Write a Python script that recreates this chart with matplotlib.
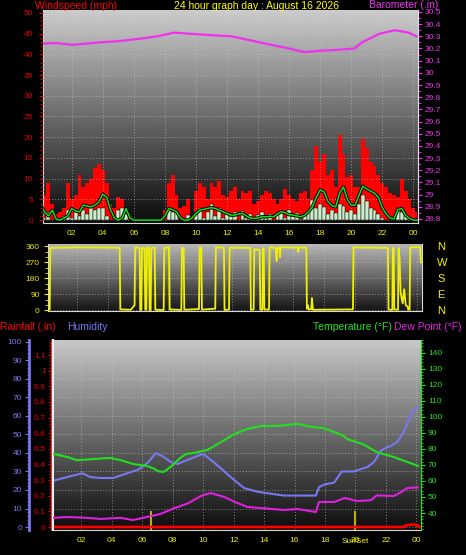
import numpy as np
import matplotlib.pyplot as plt
import matplotlib.patheffects as pe
from matplotlib.ticker import MultipleLocator
from matplotlib.transforms import blended_transform_factory

plt.rcParams['font.family'] = ['Liberation Sans', 'DejaVu Sans']

# ---------------- data ----------------
# wind readings every 15 minutes from midnight (mph)
wind_gust = [5, 6, 9, 4, 1.5, 2, 3, 9, 5, 6, 11, 8, 9, 10, 12.5, 13.5, 12, 9, 4, 3,
             5.5, 5, 3, 1, 0, 0, 0, 0, 0, 0, 0, 0, 2.5, 9, 11, 6, 3, 3.5, 5, 1,
             7, 9, 8, 5, 9, 8, 9.5, 6, 5.5, 7, 8, 5, 7, 6.5, 7, 4, 4.5, 6, 7, 6.5,
             5, 4, 5, 7.5, 6, 5, 4.5, 6.5, 7, 5, 12, 18, 14, 16, 11, 12, 8, 20.5, 16, 10.5,
             11, 8, 8, 19.5, 17.5, 14, 13, 11, 9, 8, 6.5, 6, 5.5, 10, 7, 5, 3, 2]
wind_avg = [3.6, 2, 1, 2.4, 0.2, 0, 0.5, 1, 2.8, 2.2, 2, 3.6, 3.4, 3.2, 3.6, 4.4, 6.3, 5.5, 2.5, 0.5,
            0, 0.5, 2.8, 0.5, 0, 0, 0, 0, 0, 0, 0, 0, 1, 2.8, 2.5, 2, 0.5, 0, 0, 0.5,
            1.6, 2.4, 2.6, 2.8, 3, 2.8, 2.4, 2, 1.6, 1.2, 1.2, 1.5, 1.6, 1.0, 0.5, 0.4, 0.5, 0.8, 0.8, 0.9,
            0.8, 1.5, 2, 1.8, 1.3, 1.2, 1.0, 0.8, 1.2, 2, 3.2, 5.5, 7.3, 6.8, 4.5, 3.5, 3.2, 6.5, 8, 5,
            3.6, 3.6, 6, 8.2, 7.5, 7, 6.5, 5.5, 3, 1.5, 0.5, 0.3, 2.5, 2.8, 1.2, 0.4, 0, 0]
wind_speed = [2.4, 0.5, 2, 0, 0, 0, 1, 2.4, 0.5, 2.4, 1, 2.4, 1.5, 2.8, 2.4, 3, 2.8, 1, 0, 0,
              2.4, 2.8, 1.5, 0, 0, 0, 0, 0, 0, 0, 0, 0, 0, 2.4, 2, 2.4, 0, 0, 1.2, 0,
              1.5, 2.8, 0.5, 2, 4, 1, 3, 0.5, 2, 1, 2, 0, 2.2, 0.5, 1.5, 0, 1.2, 2, 0.5, 1.5,
              0, 1.8, 2, 0.5, 2.4, 1, 1.6, 0.3, 1.5, 2, 4.8, 3, 4, 3.2, 1.5, 2.4, 1.6, 4, 3.5, 2,
              2.5, 1.5, 4, 6, 4.5, 3, 2.4, 1.5, 0.5, 0, 0, 0, 3, 2, 1, 0, 0, 0]

baro_hours = [0.13, 1.0, 2.06, 2.9, 3.8, 5.0, 6.4, 7.5, 8.6, 9.7, 10.9, 12.3,
              14.1, 16.0, 17.0, 17.9, 19.2, 20.2, 20.7, 21.8, 22.8, 23.7, 24.2]
baro_inhg = [30.24, 30.245, 30.23, 30.24, 30.25, 30.26, 30.28, 30.30, 30.33, 30.32, 30.31, 30.30,
             30.25, 30.20, 30.17, 30.18, 30.19, 30.20, 30.25, 30.32, 30.35, 30.33, 30.30]

dir_hours = [0.15, 0.26, 0.30, 2.0, 4.0, 4.78, 4.82, 5.5, 5.74, 5.78, 6.07, 6.11, 6.18, 6.22,
             6.39, 6.43, 6.50, 6.54, 6.67, 6.71, 6.78, 6.82, 7.04, 7.08, 7.62, 7.66, 7.96, 8.00,
             8.76, 8.80, 8.91, 8.95, 9.90, 9.94, 10.05, 10.09, 10.95, 10.99, 11.51, 11.55,
             11.84, 11.88, 13.21, 13.25, 13.43, 13.47, 13.82, 13.86, 13.99, 14.03, 14.08, 14.12,
             14.42, 14.46, 14.85, 14.91, 14.96, 15.10, 15.13, 15.17, 16.29, 16.31, 16.34,
             16.83, 16.87, 16.94, 16.97, 17.15, 17.19, 17.26, 19.84, 19.88, 22.10, 22.14,
             22.38, 22.42, 22.47, 22.51, 22.75, 22.79, 22.85, 22.92, 23.05, 23.15, 23.25,
             23.38, 23.42, 23.50, 23.54, 24.17, 24.23]
dir_deg = [5, 5, 352, 355, 354, 352, 6, 4, 30, 355, 350, 3, 5, 352,
           350, 4, 5, 354, 352, 2, 3, 350, 354, 4, 3, 352, 355, 6,
           3, 353, 350, 4, 8, 354, 352, 5, 10, 356, 352, 3,
           5, 353, 352, 4, 6, 345, 340, 5, 4, 350, 348, 6,
           5, 355, 352, 280, 350, 352, 300, 355, 354, 330, 355,
           352, 10, 30, 5, 8, 70, 4, 6, 355, 352, 5,
           3, 350, 352, 6, 4, 350, 300, 100, 40, 120, 30,
           20, 4, 5, 355, 356, 270]

hum_hours = [0.16, 1.08, 2.07, 2.6, 3.25, 4.1, 5.0, 5.75, 6.4, 6.9, 7.4, 7.9, 8.3, 9.2, 10.0,
             10.7, 11.4, 11.95, 12.7, 13.6, 14.45, 15.3, 16.2, 17.4, 17.6, 17.95, 18.6, 19.1,
             19.9, 20.8, 21.2, 21.7, 22.35, 22.75, 23.2, 23.7, 24.1]
hum_pct = [25, 27, 29, 27, 26.5, 26.5, 29, 31, 35, 40, 38, 35, 34, 37, 39.5,
           35, 30, 26, 21, 19, 18, 17, 17, 17, 21.5, 23, 24, 30,
           30, 32.5, 35, 41.5, 44, 46, 52, 61.6, 65]

temp_hours = [0.16, 1.08, 1.7, 2.8, 3.9, 4.6, 5.4, 6.3, 6.7, 7.1, 7.4, 7.9, 8.5, 8.9, 9.4,
              10.3, 11.2, 12.0, 12.9, 13.8, 14.9, 16.2, 17.1, 17.9, 19.1, 19.5, 20.5, 21.4,
              22.5, 23.4, 24.1]
temp_f = [77, 75, 73, 73.7, 74.4, 73, 70.6, 69.4, 68, 66, 65.6, 69, 74.4, 76.9, 77.5,
          79.4, 84.4, 89, 92.5, 94.4, 94.4, 95.6, 93.8, 93, 88.8, 86, 83, 78,
          75, 71.9, 69.4]

dew_hours = [0.16, 1.08, 2.4, 3.25, 4.6, 5.4, 6.3, 7.2, 8.1, 9.0, 9.85, 10.5, 11.4, 11.95,
             12.9, 13.9, 15.3, 16.2, 17.4, 17.6, 18.6, 19.3, 20.1, 21.0, 21.4, 22.5, 23.0,
             23.4, 24.1]
dew_f = [37, 37.5, 37, 36.3, 37, 35.6, 37.5, 39.4, 43, 46, 50.6, 52.5, 50, 47.5,
         43.8, 43, 41.9, 42.5, 40.6, 46.9, 46.9, 49.4, 47.5, 48, 51, 50.6, 53,
         55.6, 56]

rain_hours = [0.16, 23.2, 23.3, 23.6, 23.9, 24.1, 24.2]
rain_in = [0.0, 0.0, 0.01, 0.015, 0.015, 0.01, 0.0]

sunrise_hour = 6.55
sunset_hour = 20.0
hour_ticks = [2, 4, 6, 8, 10, 12, 14, 16, 18, 20, 22, 24]
hour_labels = ['02', '04', '06', '08', '10', '12', '14', '16', '18', '20', '22', '00']

wind_hours = np.arange(len(wind_gust)) * 0.25

# ---------------- figure ----------------
W, H = 466, 555
fig = plt.figure(figsize=(W / 100, H / 100), dpi=100, facecolor='black')


def box(l, t, r, b):
    return fig.add_axes([l / W, 1 - b / H, (r - l) / W, (b - t) / H])


def shade(ax, top, bottom):
    grad = np.linspace(top, bottom, 256).reshape(-1, 1)
    ax.imshow(grad, extent=[0, 1, 0, 1], transform=ax.transAxes, cmap='gray',
              vmin=0, vmax=1, aspect='auto', zorder=0, interpolation='bilinear')


XLIM = (0.15, 24.3)
GRID = dict(color='#c8c8c8', linestyle=(0, (1, 2)), linewidth=0.7, alpha=0.6)
TICKFS = 6

# ---- top panel: wind + barometer ----
ax1 = box(43, 10, 418, 223)
shade(ax1, 0.80, 0.04)
ax1.fill_between(wind_hours, wind_gust, step='mid', color='#ff0000', lw=0, zorder=2)
ax1.bar(wind_hours, wind_speed, width=0.25, color='#cdeecd', edgecolor='black', lw=0.35, zorder=3)
ax1.plot(wind_hours, wind_avg, color='#10e010', lw=1.1, zorder=4,
         path_effects=[pe.Stroke(linewidth=2.4, foreground='black'), pe.Normal()])
ax1.set_xlim(*XLIM)
ax1.set_ylim(-0.7, 50.7)
ax1.set_xticks(hour_ticks)
ax1.set_xticklabels(hour_labels)
ax1.yaxis.set_major_locator(MultipleLocator(5))
ax1.yaxis.set_minor_locator(MultipleLocator(1))
ax1.grid(True, **GRID)
ax1.set_axisbelow(False)
ax1.tick_params(axis='y', which='both', colors='#e00000', labelsize=TICKFS, pad=4)
ax1.tick_params(axis='y', which='major', length=3)
ax1.tick_params(axis='y', which='minor', length=2)
ax1.tick_params(axis='x', colors='#f0f000', labelsize=TICKFS, length=0, pad=5)
for s in ax1.spines.values():
    s.set_color('#d8d8d8')
ax1.spines['top'].set_visible(False)

ax1b = ax1.twinx()
ax1b.plot(baro_hours, baro_inhg, color='#f030f0', lw=1.6, zorder=5)
ax1b.set_ylim(28.767, 30.516)
ax1b.yaxis.set_major_locator(MultipleLocator(0.1))
ax1b.yaxis.set_minor_locator(MultipleLocator(0.05))
ax1b.yaxis.set_major_formatter(plt.FuncFormatter(lambda v, p: f'{v:.1f}'.rstrip('0').rstrip('.')))
ax1b.tick_params(axis='y', which='both', colors='#f030f0', labelsize=TICKFS, pad=2)
ax1b.tick_params(axis='y', which='major', length=3)
ax1b.tick_params(axis='y', which='minor', length=2)
for s in ax1b.spines.values():
    s.set_visible(False)
ax1b.spines['right'].set_visible(True)
ax1b.spines['right'].set_color('#f0d8f0')

# ---- middle panel: wind direction ----
ax2 = box(48, 244, 422, 311)
shade(ax2, 0.72, 0.08)
ax2.plot(dir_hours, dir_deg, color='#f0f000', lw=1.3, zorder=3)
ax2.set_xlim(*XLIM)
ax2.set_ylim(-3, 374)
ax2.set_xticks(hour_ticks)
ax2.set_xticklabels([])
ax2.set_yticks([0, 90, 180, 270, 360])
ax2.yaxis.set_minor_locator(MultipleLocator(30))
ax2.grid(True, **GRID)
ax2.tick_params(axis='y', which='both', colors='#e8e800', labelsize=TICKFS, pad=3)
ax2.tick_params(axis='y', which='major', length=3)
ax2.tick_params(axis='y', which='minor', length=2)
ax2.tick_params(axis='x', length=0)
for s in ax2.spines.values():
    s.set_color('#d8d8d8')
ax2.spines['top'].set_visible(False)

ax2b = ax2.twinx()
ax2b.set_ylim(-3, 374)
ax2b.set_yticks([0, 90, 180, 270, 360])
ax2b.set_yticklabels(['N', 'E', 'S', 'W', 'N'])
ax2b.tick_params(axis='y', colors='#f0f000', labelsize=8, length=0, pad=11)
for s in ax2b.spines.values():
    s.set_visible(False)

# ---- bottom panel: humidity, rain, temperature, dew point ----
ax3 = box(53, 340, 421, 530)
shade(ax3, 0.78, 0.05)
ax3.plot(hum_hours, hum_pct, color='#7878f0', lw=1.5, zorder=4)
ax3.set_xlim(*XLIM)
ax3.set_ylim(-1.6, 101)
ax3.set_xticks(hour_ticks)
ax3.set_xticklabels(hour_labels)
ax3.yaxis.set_major_locator(MultipleLocator(10))
ax3.yaxis.set_minor_locator(MultipleLocator(2))
ax3.grid(True, **GRID)
ax3.tick_params(axis='y', which='both', colors='#7878f0', labelsize=TICKFS, pad=2)
ax3.tick_params(axis='y', which='major', length=3)
ax3.tick_params(axis='y', which='minor', length=1.5)
ax3.tick_params(axis='x', colors='#f0f000', labelsize=TICKFS, length=0, pad=5)
ax3.spines['left'].set_position(('outward', 17.3))
ax3.spines['left'].set_color('#7878f0')
ax3.spines['left'].set_linewidth(2)
ax3.spines['top'].set_visible(False)
ax3.spines['right'].set_visible(False)
ax3.spines['bottom'].set_color('#d8d8d8')
trans = blended_transform_factory(ax3.transData, ax3.transAxes)
for h in (sunrise_hour, sunset_hour):
    ax3.plot([h, h], [0.0, 0.095], transform=trans, color='#c0b000', lw=1.5, zorder=3)
ax3.text(sunset_hour, -0.063, 'SunSet', transform=trans, color='#f0f000',
         fontsize=TICKFS, ha='center', va='center')

ax3r = ax3.twinx()
ax3r.plot(rain_hours, rain_in, color='#ff0000', lw=2, zorder=6)
ax3r.set_ylim(-0.019, 1.196)
ax3r.yaxis.tick_left()
ax3r.yaxis.set_label_position('left')
ax3r.yaxis.set_major_locator(MultipleLocator(0.1))
ax3r.yaxis.set_minor_locator(MultipleLocator(0.02))
ax3r.yaxis.set_major_formatter(plt.FuncFormatter(lambda v, p: f'{v:.1f}'.rstrip('0').rstrip('.') if v else '0'))
ax3r.tick_params(axis='y', which='both', colors='#e00000', labelsize=TICKFS, pad=1.5)
ax3r.tick_params(axis='y', which='major', length=2.5)
ax3r.tick_params(axis='y', which='minor', length=1.5)
for s in ax3r.spines.values():
    s.set_visible(False)
ax3r.spines['left'].set_visible(True)
ax3r.spines['left'].set_position(('outward', 1.2))
ax3r.spines['left'].set_color('#ff2020')

ax3t = ax3.twinx()
ax3t.plot(temp_hours, temp_f, color='#20e020', lw=1.5, zorder=5)
ax3t.plot(dew_hours, dew_f, color='#e020e0', lw=1.5, zorder=5)
ax3t.set_ylim(29.4, 148)
ax3t.yaxis.set_minor_locator(MultipleLocator(2))
ax3t.set_yticks(range(40, 150, 10))
ax3t.tick_params(axis='y', which='both', colors='#20e020', labelsize=TICKFS, pad=2)
ax3t.tick_params(axis='y', which='major', length=3)
ax3t.tick_params(axis='y', which='minor', length=1.5)
for s in ax3t.spines.values():
    s.set_visible(False)
ax3t.spines['right'].set_visible(True)
ax3t.spines['right'].set_color('#20e020')
ax3t.spines['left'].set_visible(True)
ax3t.spines['left'].set_color('#f0f0f0')
ax3t.spines['left'].set_linewidth(1.5)

# ---- titles ----
TFS = 7.5
fig.text(35 / W, 1 - 6 / H, 'Windspeed (mph)', color='#ff0000', fontsize=TFS, ha='left', va='center')
fig.text(257 / W, 1 - 6 / H, '24 hour graph day : August 16 2026', color='#ffff00',
         fontsize=TFS, ha='center', va='center')
fig.text(438 / W, 1 - 5 / H, 'Barometer (.in)', color='#f030f0', fontsize=TFS, ha='right', va='center')
fig.text(0 / W, 1 - 327 / H, 'Rainfall (.in)', color='#ff0000', fontsize=TFS, ha='left', va='center')
fig.text(67 / W, 1 - 327 / H, 'Humidity', color='#7878f0', fontsize=TFS, ha='left', va='center')
fig.text(392 / W, 1 - 327 / H, 'Temperature (°F)', color='#20e020', fontsize=TFS, ha='right', va='center')
fig.text(462 / W, 1 - 327 / H, 'Dew Point (°F)', color='#e020e0', fontsize=TFS, ha='right', va='center')

fig.savefig('out.png', dpi=100, facecolor='black')
